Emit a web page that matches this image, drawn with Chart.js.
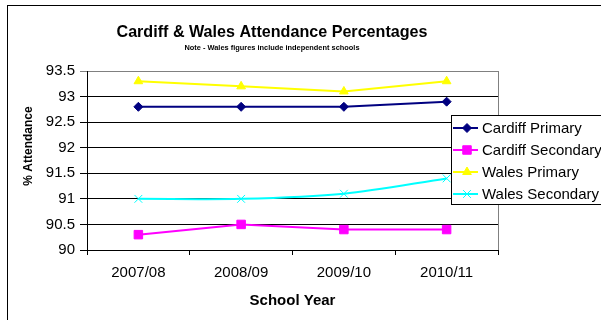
<!DOCTYPE html>
<html>
<head>
<meta charset="utf-8">
<script src="https://cdn.jsdelivr.net/npm/chart.js@4"></script>
<style>
  body { margin: 0; background: #fff; }
  #wrap { width: 601px; height: 320px; }
</style>
</head>
<body>
<div id="wrap"><canvas id="chart" width="601" height="320"></canvas></div>
<script>
const FONT = '"Liberation Sans", Arial, sans-serif';

const years = ['2007/08', '2008/09', '2009/10', '2010/11'];
const cardiffPrimary = [92.8, 92.8, 92.8, 92.9];
const cardiffSecondary = [90.3, 90.5, 90.4, 90.4];
const walesPrimary = [93.3, 93.2, 93.1, 93.3];
const walesSecondary = [91.0, 91.0, 91.1, 91.4];

const titleText = 'Cardiff & Wales Attendance Percentages';
const noteText = 'Note - Wales figures include independent schools';

function series(label, data, color, style, radius, tension) {
  return {
    label,
    data,
    borderColor: color,
    backgroundColor: color,
    pointBackgroundColor: color,
    pointBorderColor: color,
    pointStyle: style,
    pointRadius: radius,
    pointBorderWidth: 1,
    borderWidth: 2,
    tension: tension || 0,
  };
}

// squeeze text a little so it fits the given width
function fitText(ctx, text, x, y, width) {
  const w = ctx.measureText(text).width;
  const k = Math.min(1, width / w);
  ctx.save();
  ctx.translate(x, y);
  ctx.scale(k, 1);
  ctx.fillText(text, 0, 0);
  ctx.restore();
}

// titles, axis titles, plot frame and the boxed legend
const decorations = {
  id: 'decorations',
  beforeDraw(chart) {
    const ctx = chart.ctx;
    ctx.save();
    ctx.fillStyle = '#fff';
    ctx.fillRect(0, 0, chart.width, chart.height);
    ctx.strokeStyle = '#000';
    ctx.lineWidth = 1;
    ctx.strokeRect(7.5, 5.5, 700, 400);
    ctx.restore();
  },
  afterDraw(chart) {
    const ctx = chart.ctx;
    const area = chart.chartArea;
    ctx.save();
    ctx.fillStyle = '#000';
    ctx.textAlign = 'center';
    ctx.textBaseline = 'middle';
    ctx.font = 'bold 17px ' + FONT;
    fitText(ctx, titleText, 272, 32, 311);
    ctx.font = 'bold 8px ' + FONT;
    fitText(ctx, noteText, 272, 48, 175);

    ctx.font = 'bold 15px ' + FONT;
    ctx.fillText('School Year', (area.left + area.right) / 2, 301);

    ctx.save();
    ctx.translate(29, 146);
    ctx.rotate(-Math.PI / 2);
    ctx.font = 'bold 12px ' + FONT;
    ctx.fillText('% Attendance', 0, 0);
    ctx.restore();

    // right edge of the plot
    ctx.strokeStyle = '#808080';
    ctx.lineWidth = 1;
    ctx.beginPath();
    ctx.moveTo(Math.round(area.right) + 0.5, area.top);
    ctx.lineTo(Math.round(area.right) + 0.5, area.bottom);
    ctx.stroke();

    // legend box
    const lx = 451.5, ly = 115.5;
    ctx.fillStyle = '#fff';
    ctx.fillRect(lx, ly, 200, 89);
    ctx.strokeStyle = '#000';
    ctx.strokeRect(lx, ly, 200, 89);
    ctx.font = '15px ' + FONT;
    ctx.textAlign = 'left';
    chart.data.datasets.forEach((ds, i) => {
      const y = 128 + i * 22;
      ctx.strokeStyle = ds.borderColor;
      ctx.lineWidth = 2;
      ctx.beginPath();
      ctx.moveTo(453, y);
      ctx.lineTo(478, y);
      ctx.stroke();
      ctx.fillStyle = ds.backgroundColor;
      ctx.lineWidth = 1;
      Chart.helpers.drawPoint(ctx, {
        pointStyle: ds.pointStyle,
        radius: ds.pointRadius,
        rotation: 0,
        borderWidth: 1,
      }, 467, y);
      ctx.fillStyle = '#000';
      ctx.fillText(ds.label, 482, y + 1);
    });
    ctx.restore();
  },
};

new Chart(document.getElementById('chart'), {
  type: 'line',
  data: {
    labels: years,
    datasets: [
      series('Cardiff Primary', cardiffPrimary, '#000080', 'rectRot', 4.5),
      series('Cardiff Secondary', cardiffSecondary, '#FF00FF', 'rect', 6),
      series('Wales Primary', walesPrimary, '#FFFF00', 'triangle', 5),
      series('Wales Secondary', walesSecondary, '#00FFFF', 'crossRot', 5.5, 0.3),
    ],
  },
  options: {
    responsive: false,
    animation: false,
    layout: { padding: { left: 0, top: 71, right: 103, bottom: 0 } },
    plugins: {
      legend: { display: false },
      title: { display: false },
      tooltip: { enabled: false },
    },
    scales: {
      x: {
        type: 'category',
        offset: true,
        afterFit: (s) => { s.height = 70; },
        grid: {
          offset: true,
          drawOnChartArea: false,
          color: '#000',
          tickLength: 5,
        },
        border: { color: '#000', width: 1 },
        ticks: {
          color: '#000',
          font: { family: FONT, size: 15 },
          padding: 9,
          maxRotation: 0,
        },
      },
      y: {
        min: 90,
        max: 93.5,
        afterFit: (s) => { s.width = 87; },
        grid: {
          color: (c) => (c.tick && c.tick.value === 93.5 ? '#808080' : '#000'),
          tickLength: 7,
        },
        border: { color: '#000', width: 1 },
        ticks: {
          stepSize: 0.5,
          color: '#000',
          font: { family: FONT, size: 15 },
          padding: 5,
          callback: (v) => String(v),
        },
      },
    },
  },
  plugins: [decorations],
});
</script>
</body>
</html>
